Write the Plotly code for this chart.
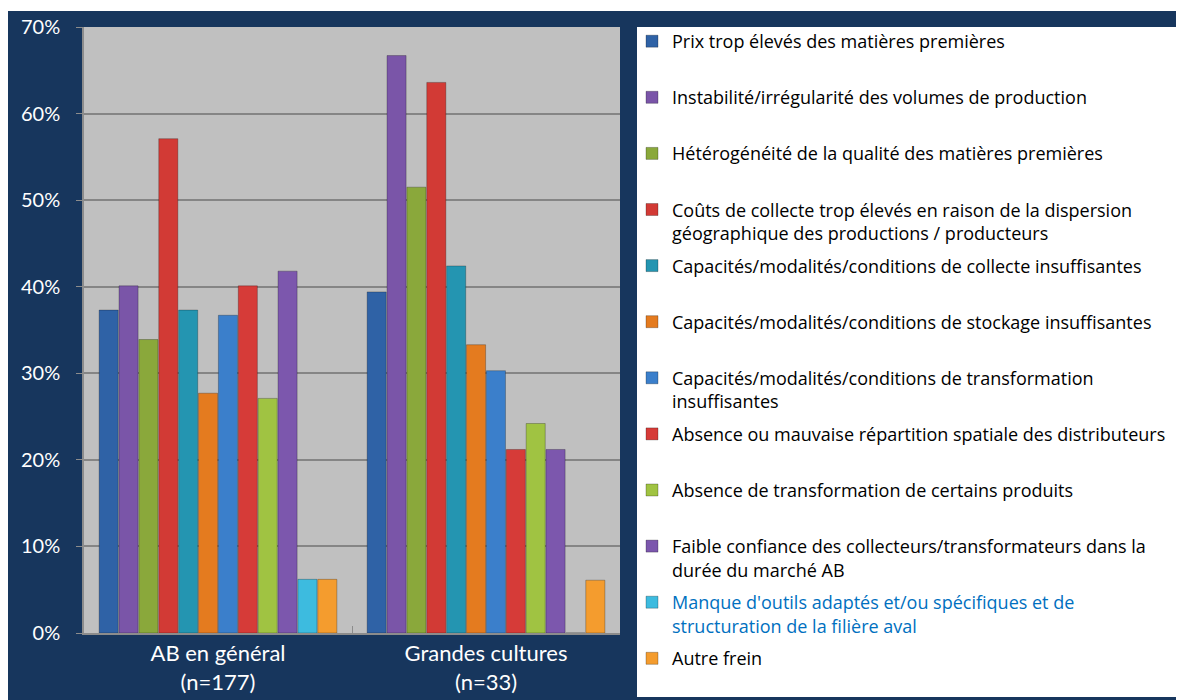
import plotly.graph_objects as go

# categories on the x axis
categories = ["AB en général<br>(n=177)", "Grandes cultures<br>(n=33)"]

# one series per obstacle (legend order), values in % for each category
series_names = [
    "Prix trop élevés des matières premières",
    "Instabilité/irrégularité des volumes de production",
    "Hétérogénéité de la qualité des matières premières",
    "Coûts de collecte trop élevés en raison de la dispersion<br>géographique des productions / producteurs",
    "Capacités/modalités/conditions de collecte insuffisantes",
    "Capacités/modalités/conditions de stockage insuffisantes",
    "Capacités/modalités/conditions de transformation<br>insuffisantes",
    "Absence ou mauvaise répartition spatiale des distributeurs",
    "Absence de transformation de certains produits",
    "Faible confiance des collecteurs/transformateurs dans la<br>durée du marché AB",
    "<span style='color:#0070C0'>Manque d'outils adaptés et/ou spécifiques et de<br>structuration de la filière aval</span>",
    "Autre frein",
]
ab_general = [37.3, 40.1, 33.9, 57.1, 37.3, 27.7, 36.7, 40.1, 27.1, 41.8, 6.2, 6.2]
grandes_cultures = [39.4, 66.7, 51.5, 63.6, 42.4, 33.3, 30.3, 21.2, 24.2, 21.2, 0, 6.1]

bar_colors = ["#2F62A6", "#7A55A8", "#8AA83B", "#D23A35", "#2495B1", "#E47B1F",
              "#3B7FCB", "#D63B38", "#A0C342", "#7C57AD", "#3DBBDF", "#F49C2E"]

NAVY = "#17365D"
FONT = "Lato"
LEG_FONT = "Open Sans"

fig = go.Figure()

for i, name in enumerate(series_names):
    label = name if "<br>" in name else name + "<br>\u00a0"
    fig.add_trace(go.Bar(
        x=categories, y=[ab_general[i], grandes_cultures[i]], name=label,
        marker=dict(color=bar_colors[i], line=dict(color="rgba(0,0,0,0.25)", width=1)),
        legendgroup=str(i),
    ))

# page has an 8px body margin, so figure coords = page coords - 8
W, H = 1176, 692
ml, mr, mt, mb = 76, 564, 19, 67
pw, ph = W - ml - mr, H - mt - mb


def px_x(v):
    return (v - ml) / pw


def px_y(v):
    return (H - mb - v) / ph


# thin white strip at the top, white legend panel on the right
fig.add_shape(type="rect", xref="paper", yref="paper", layer="below",
              x0=px_x(-5), x1=px_x(W + 5), y0=px_y(3), y1=px_y(-5),
              fillcolor="white", line_width=0)
fig.add_shape(type="rect", xref="paper", yref="paper", layer="below",
              x0=px_x(629), x1=px_x(W + 5), y0=px_y(689), y1=px_y(19),
              fillcolor="white", line_width=0)

fig.update_layout(
    width=W, height=H,
    margin=dict(l=ml, r=mr, t=mt, b=mb, autoexpand=False),
    paper_bgcolor=NAVY, plot_bgcolor="#C0C0C0",
    barmode="group", bargap=0.11, bargroupgap=0.04,
    font=dict(family=FONT, size=20, color="white"),
    showlegend=True,
    legend=dict(x=px_x(624), xanchor="left", y=px_y(15), yanchor="top",
                bgcolor="rgba(0,0,0,0)", font=dict(family=LEG_FONT, size=18, color="black"),
                traceorder="grouped", tracegroupgap=6.3, valign="top", maxheight=700),
)

fig.update_yaxes(range=[0, 70], dtick=10, ticksuffix="%", showgrid=True,
                 gridcolor="#858585", gridwidth=1.5, showline=True, linecolor="#8C8C8C",
                 linewidth=1.5, ticks="outside", ticklen=6, tickcolor="#8C8C8C",
                 ticklabelstandoff=12, zeroline=False, tickfont=dict(size=20, color="white"))
fig.update_xaxes(showline=True, linecolor="#8C8C8C", linewidth=2, ticks="inside",
                 tickson="boundaries", ticklen=7, tickcolor="#8C8C8C",
                 tickfont=dict(size=22, color="white"))

fig.write_html("out.html")
